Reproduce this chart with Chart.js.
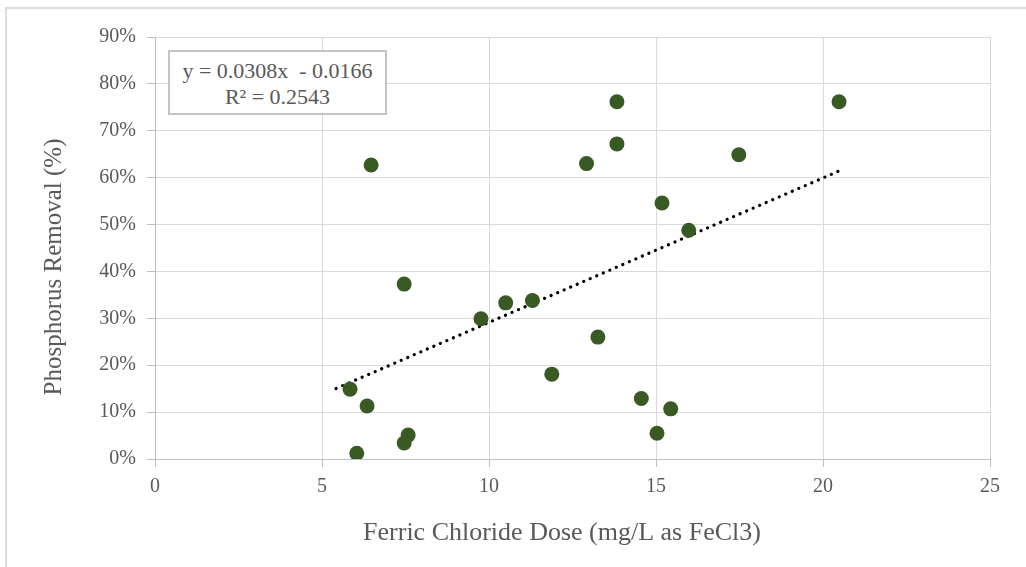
<!DOCTYPE html>
<html>
<head>
<meta charset="utf-8">
<script src="https://cdn.jsdelivr.net/npm/chart.js@4"></script>
<style>
  html, body { margin: 0; padding: 0; background: #fff; overflow: hidden; }
  #wrap { position: relative; width: 1026px; height: 567px; }
  #frame { position: absolute; left: 5px; top: 7px; width: 1100px; height: 700px; border: 2px solid #dcdcdc; }
  #eq {
    position: absolute; left: 168px; top: 50px; width: 215px;
    border: 2px solid #c4c4c4; background: #fff;
    font-family: "Liberation Serif", "Times New Roman", serif; font-size: 22px;
    color: #595959; text-align: center; line-height: 26px; white-space: pre;
    padding-top: 6px; height: 55px;
  }
  canvas { position: absolute; left: 0; top: 0; }
</style>
</head>
<body>
<div id="wrap">
  <div id="frame"></div>
  <canvas id="scatter" width="1026" height="567"></canvas>
  <div id="eq">y = 0.0308x  - 0.0166
R² = 0.2543</div>
</div>
<script>
// ferric chloride dose (mg/L) and phosphorus removal (fraction)
const doseX = [5.84, 6.35, 6.04, 6.47, 7.46, 7.46, 7.58, 9.76, 10.5, 11.3, 11.88,
               12.92, 13.26, 13.83, 13.83, 14.56, 15.03, 15.18, 15.44, 15.98, 17.48, 20.48];
const removalY = [0.149, 0.113, 0.012, 0.627, 0.373, 0.034, 0.051, 0.299, 0.333, 0.338, 0.181,
                  0.630, 0.260, 0.762, 0.672, 0.129, 0.055, 0.546, 0.107, 0.488, 0.649, 0.762];

// linear trendline shown in the chart
const trendSlope = 0.0308;
const trendIntercept = -0.0166;
const trendX = [5.42, 20.5];

const xTicks = [0, 5, 10, 15, 20, 25];
const yTicks = [0, 0.1, 0.2, 0.3, 0.4, 0.5, 0.6, 0.7, 0.8, 0.9];

const xTitle = "Ferric Chloride Dose (mg/L as FeCl3)";
const yTitle = "Phosphorus Removal (%)";

const serif = "'Liberation Serif', 'Times New Roman', serif";
const grey = "#595959";

const points = doseX.map((x, i) => ({ x: x, y: removalY[i] }));
const trend = trendX.map(x => ({ x: x, y: trendSlope * x + trendIntercept }));

// axis titles drawn by hand so they can sit where Excel put them
const axisTitles = {
  id: "axisTitles",
  afterDraw(chart) {
    const ctx = chart.ctx;
    ctx.save();
    ctx.fillStyle = grey;
    ctx.textAlign = "center";
    ctx.textBaseline = "middle";
    ctx.font = "26px " + serif;
    ctx.fillText(xTitle, 562, 533);
    ctx.translate(54, 267);
    ctx.rotate(-Math.PI / 2);
    ctx.font = "25px " + serif;
    ctx.fillText(yTitle, 0, 0);
    ctx.restore();
  }
};

new Chart(document.getElementById("scatter"), {
  type: "scatter",
  data: {
    datasets: [
      {
        label: "Phosphorus Removal",
        data: points,
        backgroundColor: "#3a5a25",
        borderColor: "#3a5a25",
        pointRadius: 7.5,
        pointHoverRadius: 7.5,
        borderWidth: 0
      },
      {
        label: "Linear trend",
        type: "line",
        data: trend,
        showLine: true,
        borderColor: "#000",
        borderWidth: 3.2,
        borderDash: [0.1, 7],
        borderCapStyle: "round",
        pointRadius: 0,
        fill: false
      }
    ]
  },
  plugins: [axisTitles],
  options: {
    responsive: false,
    animation: false,
    devicePixelRatio: 1,
    layout: { padding: { left: 0, right: 36, top: 37, bottom: 0 } },
    plugins: { legend: { display: false }, tooltip: { enabled: false } },
    scales: {
      x: {
        type: "linear",
        min: 0, max: 25,
        afterBuildTicks: s => { s.ticks = xTicks.map(v => ({ value: v })); },
        afterFit: s => { s.height = 108; },
        grid: { color: "#d9d9d9", lineWidth: 1, tickLength: 8, tickColor: "#bfbfbf" },
        border: { color: "#bfbfbf", width: 1 },
        ticks: { color: grey, font: { family: serif, size: 20 }, padding: 8 }
      },
      y: {
        type: "linear",
        min: 0, max: 0.9,
        afterBuildTicks: s => { s.ticks = yTicks.map(v => ({ value: v })); },
        afterFit: s => { s.width = 155; },
        grid: { color: "#d9d9d9", lineWidth: 1, tickLength: 8, tickColor: "#bfbfbf" },
        border: { color: "#bfbfbf", width: 1 },
        ticks: {
          color: grey,
          font: { family: serif, size: 20 },
          padding: 11,
          callback: v => Math.round(v * 100) + "%"
        }
      }
    }
  }
});
</script>
</body>
</html>
